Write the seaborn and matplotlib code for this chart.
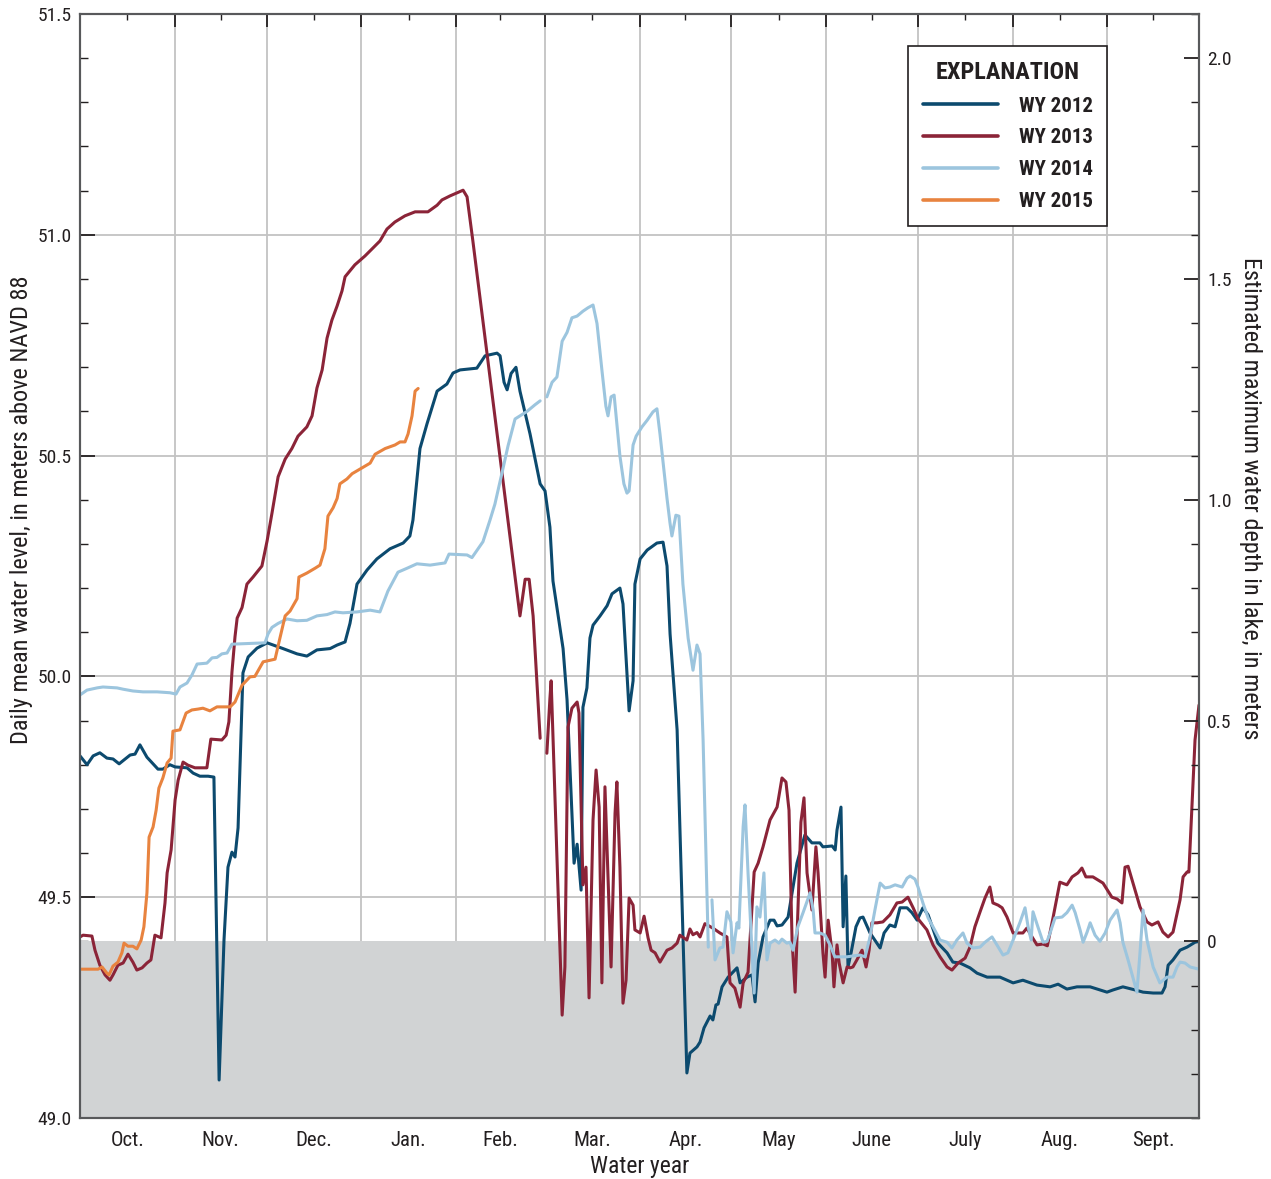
import numpy as np
import pandas as pd
import matplotlib
matplotlib.use('Agg')
import matplotlib.pyplot as plt
import seaborn as sns
from matplotlib import font_manager

months = ['Oct.', 'Nov.', 'Dec.', 'Jan.', 'Feb.', 'Mar.', 'Apr.', 'May', 'June', 'July', 'Aug.', 'Sept.']
month_days = [31, 30, 31, 31, 29, 31, 30, 31, 30, 31, 31, 30]
years = ['WY 2012', 'WY 2013', 'WY 2014', 'WY 2015']
colors = ['#0c4a6e', '#8b2438', '#9cc5de', '#e8833f']
lake_bottom = 49.4  # level where estimated depth = 0

# (day of water year, daily mean water level); None marks a data gap
wy2012 = [
    (0, 49.82), (2.3, 49.80), (4.3, 49.82), (6.5, 49.827), (8.8, 49.815), (10.8, 49.813),
    (12.8, 49.802), (16.4, 49.822), (18.0, 49.824), (19.6, 49.845), (21.9, 49.817), (25.5, 49.79),
    (27.1, 49.79), (29.4, 49.80), (31.1, 49.795), (35.0, 49.793), (37.0, 49.781), (39.2, 49.774),
    (41.9, 49.774), (43.8, 49.772), (45.5, 49.086), (47.1, 49.403), (48.4, 49.568), (49.7, 49.602),
    (50.7, 49.591), (51.7, 49.657), (53.3, 50.008), (55.0, 50.044), (57.9, 50.064), (61.2, 50.076),
    (66.4, 50.063), (71.0, 50.051), (74.2, 50.046), (77.5, 50.06), (81.8, 50.063), (84.1, 50.071),
    (86.7, 50.078), (88.3, 50.12), (90.6, 50.209), (93.9, 50.241), (97.1, 50.266), (101.4, 50.289),
    (105.7, 50.302), (107.9, 50.318), (108.9, 50.354), (111.2, 50.516), (113.5, 50.572),
    (116.8, 50.646), (120.0, 50.662), (122.0, 50.687), (124.3, 50.694), (129.8, 50.698),
    (132.5, 50.726), (136.4, 50.732), (137.4, 50.726), (138.7, 50.666), (139.7, 50.649),
    (141.0, 50.686), (142.6, 50.70), (143.9, 50.646), (147.2, 50.549), (150.5, 50.436),
    (152.1, 50.42), (153.7, 50.338), (154.7, 50.216), (158.0, 50.063), (159.3, 49.947),
    (161.6, 49.577), (162.6, 49.62), (163.9, 49.516), (164.5, 49.93), (165.8, 49.974),
    (166.8, 50.087), (167.8, 50.116), (170.1, 50.137), (172.4, 50.16), (174.0, 50.187),
    (176.6, 50.20), (177.6, 50.164), (179.6, 49.922), (180.9, 49.99), (181.5, 50.209),
    (183.2, 50.266), (185.5, 50.286), (188.7, 50.302), (190.7, 50.304), (192.0, 50.25),
    (193.0, 50.096), (195.3, 49.879), (196.9, 49.494), (198.5, 49.102), (199.5, 49.147),
    (201.8, 49.161), (202.8, 49.172), (204.1, 49.204), (206.1, 49.231), (207.0, 49.222),
    (208.0, 49.256), (208.7, 49.258), (210.0, 49.297), (212.0, 49.319), (214.9, 49.34),
    (215.9, 49.306), (218.2, 49.319), (219.8, 49.324), (220.8, 49.263), (221.8, 49.351),
    (223.4, 49.41), (225.7, 49.448), (227.0, 49.448), (228.0, 49.435), (229.6, 49.437),
    (231.6, 49.455), (234.5, 49.577), (237.1, 49.641), (239.4, 49.623), (242.0, 49.623),
    (243.0, 49.614), (246.0, 49.616), (247.0, 49.607), (247.6, 49.652), (248.9, 49.704),
    (249.6, 49.433), (250.5, 49.548), (251.2, 49.342), (252.2, 49.374), (253.8, 49.433),
    (255.1, 49.453), (256.1, 49.455), (258.4, 49.419), (261.7, 49.385), (263.0, 49.419),
    (264.9, 49.437), (266.6, 49.433), (268.2, 49.476), (270.5, 49.476), (272.1, 49.465),
    (273.8, 49.448), (275.7, 49.476), (277.4, 49.46), (280.6, 49.396), (283.6, 49.374),
    (285.5, 49.353), (287.8, 49.351), (291.1, 49.34), (293.4, 49.328), (296.7, 49.319),
    (300.9, 49.319), (305.2, 49.306), (308.4, 49.312), (313.0, 49.301), (317.3, 49.297),
    (319.9, 49.303), (322.8, 49.292), (326.1, 49.297), (330.4, 49.297), (335.9, 49.285),
    (337.9, 49.29), (341.1, 49.297), (345.1, 49.29), (347.7, 49.285), (351.0, 49.283),
    (353.9, 49.283), (354.9, 49.297), (355.9, 49.346), (357.5, 49.358), (359.8, 49.38),
    (362.1, 49.387), (364.7, 49.398), (366.0, 49.40),
]

wy2013 = [
    (0, 49.41), (1.0, 49.414), (3.9, 49.412), (4.9, 49.38), (6.5, 49.346), (8.2, 49.324),
    (9.8, 49.312), (10.8, 49.324), (12.4, 49.346), (14.1, 49.351), (15.7, 49.371), (17.3, 49.353),
    (18.6, 49.335), (20.3, 49.34), (21.9, 49.351), (23.2, 49.358), (24.5, 49.414), (26.5, 49.408),
    (27.8, 49.487), (28.5, 49.555), (29.8, 49.607), (31.1, 49.72), (32.1, 49.765), (33.7, 49.806),
    (35.3, 49.799), (37.6, 49.793), (41.5, 49.793), (42.8, 49.858), (46.4, 49.856), (47.8, 49.867),
    (48.7, 49.897), (49.7, 50.01), (50.7, 50.09), (51.4, 50.132), (53.0, 50.156), (54.6, 50.209),
    (56.6, 50.225), (59.5, 50.25), (61.2, 50.307), (62.8, 50.37), (64.8, 50.452), (67.1, 50.492),
    (69.3, 50.516), (71.3, 50.544), (74.2, 50.565), (75.9, 50.59), (77.5, 50.653), (79.2, 50.694),
    (80.8, 50.766), (82.4, 50.807), (84.1, 50.839), (85.7, 50.873), (86.7, 50.905), (89.9, 50.932),
    (93.2, 50.952), (95.8, 50.97), (98.1, 50.986), (100.4, 51.013), (103.0, 51.029), (106.3, 51.043),
    (109.6, 51.052), (113.8, 51.052), (116.8, 51.067), (118.4, 51.079), (121.0, 51.088),
    (125.3, 51.101), (126.6, 51.086), (128.5, 50.986), (143.9, 50.137), (145.6, 50.22),
    (146.9, 50.22), (148.2, 50.137), (150.5, 49.86), (151.6, None),
    (152.7, 49.826), (153.7, 49.95), (154.1, 49.99), (157.7, 49.233), (158.6, 49.342),
    (159.6, 49.885), (160.9, 49.928), (162.6, 49.942), (163.2, 49.917), (164.5, 49.528),
    (165.5, 49.568), (166.5, 49.272), (167.8, 49.675), (168.8, 49.788), (169.8, 49.704),
    (170.7, 49.306), (171.7, 49.75), (173.7, 49.342), (175.0, 49.69), (175.6, 49.761),
    (176.6, 49.568), (177.6, 49.26), (178.6, 49.312), (179.6, 49.498), (180.9, 49.482),
    (181.5, 49.426), (183.2, 49.419), (184.5, 49.457), (185.8, 49.408), (186.8, 49.38),
    (188.1, 49.374), (189.7, 49.353), (192.0, 49.38), (193.6, 49.385), (195.3, 49.396),
    (196.2, 49.414), (198.5, 49.403), (199.5, 49.428), (200.5, 49.415), (201.8, 49.42),
    (202.8, 49.41), (204.4, 49.44), (207.0, 49.43), (209.3, 49.419), (211.6, 49.41),
    (212.6, 49.306), (214.2, 49.294), (215.9, 49.251), (216.9, 49.306), (218.5, 49.33),
    (220.5, 49.557), (221.8, 49.577), (223.4, 49.614), (225.7, 49.675), (228.0, 49.704),
    (229.6, 49.77), (230.9, 49.761), (231.9, 49.697), (232.9, 49.403), (233.9, 49.285),
    (235.8, 49.67), (236.8, 49.725), (237.8, 49.555), (239.4, 49.471), (240.7, 49.614),
    (241.4, 49.555), (243.0, 49.374), (243.7, 49.319), (244.7, 49.448), (246.0, 49.374),
    (246.6, 49.297), (247.6, 49.392), (248.3, 49.351), (249.6, 49.306), (250.9, 49.342),
    (251.9, 49.34), (252.8, 49.342), (254.1, 49.358), (255.8, 49.38), (257.1, 49.342),
    (258.1, 49.38), (259.0, 49.442), (260.7, 49.442), (262.6, 49.444), (264.9, 49.46),
    (267.2, 49.487), (268.9, 49.489), (270.8, 49.50), (272.5, 49.476), (274.1, 49.451),
    (277.0, 49.426), (279.0, 49.392), (281.3, 49.365), (283.6, 49.342), (285.2, 49.335),
    (287.2, 49.351), (289.5, 49.362), (291.1, 49.387), (292.7, 49.433), (294.4, 49.467),
    (296.0, 49.498), (297.6, 49.523), (298.6, 49.487), (300.3, 49.482), (301.6, 49.476),
    (303.2, 49.455), (305.2, 49.419), (308.4, 49.419), (309.7, 49.43), (311.4, 49.41),
    (313.0, 49.392), (315.0, 49.394), (316.4, 49.39), (318.3, 49.455), (320.5, 49.534),
    (322.8, 49.528), (324.5, 49.546), (326.4, 49.555), (327.7, 49.566), (329.0, 49.546),
    (331.3, 49.546), (334.6, 49.532), (337.5, 49.50), (339.2, 49.496), (340.8, 49.487),
    (341.8, 49.568), (342.8, 49.57), (345.1, 49.516), (346.7, 49.478), (349.0, 49.444),
    (350.6, 49.437), (352.6, 49.444), (354.2, 49.421), (355.9, 49.41), (357.5, 49.421),
    (359.8, 49.494), (360.8, 49.546), (362.1, 49.557), (362.7, 49.557), (363.7, 49.704),
    (364.7, 49.856), (366.0, 49.935),
]

wy2014 = [
    (0, 49.958), (2.3, 49.969), (5.6, 49.974), (7.5, 49.976), (12.1, 49.974), (14.1, 49.971),
    (17.3, 49.967), (20.6, 49.965), (25.2, 49.965), (29.4, 49.963), (31.4, 49.96), (32.7, 49.976),
    (35.0, 49.985), (36.6, 50.003), (38.3, 50.028), (41.5, 50.03), (43.2, 50.042), (44.8, 50.043),
    (46.4, 50.051), (48.1, 50.053), (49.7, 50.073), (53.3, 50.074), (60.5, 50.076), (61.5, 50.096),
    (62.8, 50.111), (64.8, 50.12), (67.7, 50.13), (71.0, 50.126), (74.2, 50.127), (77.5, 50.137),
    (80.8, 50.14), (83.4, 50.146), (86.0, 50.144), (90.6, 50.146), (94.9, 50.15), (98.1, 50.146),
    (100.7, 50.193), (104.0, 50.236), (107.0, 50.245), (110.2, 50.255), (114.5, 50.252),
    (119.4, 50.257), (120.7, 50.277), (126.6, 50.275), (128.2, 50.269), (131.8, 50.305),
    (134.1, 50.354), (135.7, 50.39), (138.0, 50.46), (140.0, 50.522), (142.3, 50.583),
    (146.2, 50.60), (148.8, 50.615), (150.5, 50.624), (151.6, None),
    (152.7, 50.633), (154.4, 50.666), (156.0, 50.678), (157.7, 50.759), (159.3, 50.779),
    (160.9, 50.812), (162.6, 50.816), (164.5, 50.827), (166.2, 50.835), (167.8, 50.841),
    (169.1, 50.799), (170.7, 50.694), (172.0, 50.612), (172.7, 50.59), (173.7, 50.633),
    (174.7, 50.637), (176.6, 50.499), (177.9, 50.436), (178.9, 50.415), (179.6, 50.42),
    (180.9, 50.524), (181.9, 50.544), (183.8, 50.565), (185.5, 50.58), (187.4, 50.599),
    (188.7, 50.606), (189.7, 50.549), (192.0, 50.403), (193.0, 50.346), (193.6, 50.318),
    (194.9, 50.365), (195.9, 50.363), (197.2, 50.209), (198.9, 50.087), (200.5, 50.014),
    (201.8, 50.071), (202.8, 50.051), (203.8, 49.856), (205.5, 49.387), (206.1, None),
    (206.7, 49.494), (207.7, 49.358), (209.3, 49.385), (210.3, 49.387), (211.6, 49.467),
    (212.9, 49.444), (213.6, 49.374), (214.9, 49.442), (215.5, 49.43), (216.9, 49.66),
    (217.5, 49.709), (218.5, 49.555), (220.5, 49.283), (221.4, 49.478), (222.4, 49.455),
    (223.7, 49.555), (224.7, 49.358), (225.7, 49.396), (227.3, 49.403), (228.6, 49.396),
    (229.6, 49.405), (231.2, 49.396), (232.2, 49.398), (233.2, 49.38), (234.8, 49.433),
    (236.5, 49.465), (238.8, 49.51), (239.8, 49.471), (240.4, 49.419), (242.0, 49.419),
    (243.7, 49.414), (245.3, 49.392), (246.9, 49.365), (248.6, 49.365), (250.9, 49.365),
    (252.8, 49.367), (255.1, 49.369), (256.8, 49.365), (258.4, 49.41), (260.0, 49.471),
    (261.7, 49.532), (263.3, 49.521), (264.9, 49.523), (266.6, 49.528), (268.9, 49.523),
    (270.5, 49.543), (271.5, 49.548), (273.1, 49.541), (274.1, 49.523), (275.7, 49.487),
    (277.4, 49.453), (279.0, 49.433), (281.3, 49.403), (283.6, 49.398), (285.2, 49.385),
    (286.8, 49.403), (288.8, 49.419), (290.1, 49.396), (292.1, 49.385), (294.4, 49.387),
    (296.0, 49.398), (298.3, 49.41), (299.9, 49.392), (301.9, 49.369), (303.5, 49.374),
    (305.2, 49.403), (307.5, 49.444), (309.1, 49.476), (310.1, 49.433), (311.1, 49.403),
    (311.7, 49.467), (313.3, 49.433), (315.0, 49.398), (316.3, 49.40), (317.3, 49.419),
    (318.9, 49.453), (321.2, 49.455), (322.8, 49.465), (324.5, 49.482), (325.5, 49.465),
    (327.1, 49.426), (328.1, 49.398), (329.4, 49.421), (330.4, 49.442), (332.0, 49.414),
    (333.6, 49.40), (335.3, 49.419), (336.9, 49.448), (339.2, 49.471), (340.2, 49.442),
    (341.1, 49.398), (342.8, 49.358), (345.7, 49.285), (346.7, 49.374), (347.7, 49.471),
    (349.0, 49.403), (351.0, 49.342), (353.2, 49.306), (355.5, 49.319), (357.5, 49.319),
    (358.8, 49.342), (359.8, 49.353), (361.4, 49.351), (363.1, 49.342), (366.0, 49.337),
]

wy2015 = [
    (0, 49.337), (5.9, 49.337), (7.2, 49.342), (8.8, 49.328), (9.5, 49.324), (10.8, 49.344),
    (12.4, 49.353), (13.7, 49.374), (14.4, 49.396), (15.7, 49.389), (17.3, 49.389), (18.6, 49.383),
    (20.0, 49.403), (20.9, 49.433), (21.9, 49.51), (22.6, 49.636), (23.9, 49.659), (24.9, 49.697),
    (25.8, 49.747), (27.1, 49.77), (28.5, 49.804), (29.8, 49.815), (30.4, 49.876), (32.7, 49.879),
    (34.7, 49.917), (36.6, 49.924), (38.6, 49.926), (40.2, 49.928), (42.5, 49.922), (44.8, 49.931),
    (49.1, 49.931), (50.7, 49.942), (53.0, 49.98), (55.6, 49.999), (57.2, 50.0), (59.9, 50.033),
    (63.8, 50.039), (65.4, 50.087), (67.1, 50.137), (68.7, 50.148), (71.0, 50.176), (71.6, 50.225),
    (74.2, 50.234), (76.9, 50.245), (78.5, 50.252), (80.1, 50.289), (81.1, 50.363), (82.8, 50.382),
    (84.1, 50.403), (85.0, 50.436), (87.3, 50.447), (89.0, 50.459), (92.2, 50.472), (94.9, 50.483),
    (96.5, 50.503), (99.8, 50.516), (103.0, 50.524), (104.7, 50.531), (106.3, 50.531),
    (107.3, 50.549), (108.6, 50.59), (109.6, 50.646), (110.6, 50.652),
]

# long-form table; gaps split a year into separate segments
rows = []
for name, series in zip(years, [wy2012, wy2013, wy2014, wy2015]):
    seg = 0
    for day, level in series:
        if level is None:
            seg += 1
            continue
        rows.append((name, f'{name}-{seg}', day, level))
df = pd.DataFrame(rows, columns=['year', 'segment', 'day', 'level'])

sns.set_style('ticks')
available = {f.name for f in font_manager.fontManager.ttflist}
narrow = [f for f in ['Liberation Sans Narrow', 'Roboto Condensed', 'DejaVu Sans Condensed'] if f in available]
plt.rcParams['font.family'] = narrow + ['DejaVu Sans']
ink = '#231f20'
plt.rcParams['text.color'] = ink
plt.rcParams['axes.labelcolor'] = ink
plt.rcParams['xtick.color'] = ink
plt.rcParams['ytick.color'] = ink

fig = plt.figure(figsize=(12.71, 11.79), dpi=100)
ax = fig.add_axes([80 / 1271, 61 / 1179, 1119 / 1271, 1104 / 1179])

bounds = np.concatenate([[0], np.cumsum(month_days)])
mids = (bounds[:-1] + bounds[1:]) / 2

ax.axhspan(49.0, lake_bottom, color='#d1d3d4', lw=0, zorder=1)
for b in bounds[1:-1]:
    ax.axvline(b, color='#c3c3c3', lw=1.3, zorder=0.5)
for v in [49.5, 50.0, 50.5, 51.0]:
    ax.axhline(v, color='#c3c3c3', lw=1.3, zorder=0.5)

sns.lineplot(data=df, x='day', y='level', hue='year', units='segment', estimator=None,
             sort=False, palette=dict(zip(years, colors)), linewidth=2.2, ax=ax, zorder=3)

ax.set_xlim(0, 366)
ax.set_ylim(49.0, 51.5)

ax.set_xticks(bounds)
ax.set_xticklabels([])
ax.set_xticks(mids, minor=True)
ax.set_xticklabels(months, minor=True)
ax.tick_params(axis='x', which='major', direction='in', length=9, width=1.3, top=True)
ax.tick_params(axis='x', which='minor', direction='in', length=4, width=1.0, top=True,
               labelsize=15, pad=9)

ax.set_yticks(np.arange(49.0, 51.51, 0.5))
ax.set_yticklabels([f'{v:.1f}' for v in np.arange(49.0, 51.51, 0.5)])
ax.set_yticks(np.arange(49.0, 51.51, 0.1), minor=True)
ax.tick_params(axis='y', which='major', direction='in', length=11, width=1.3, labelsize=14, pad=6)
ax.tick_params(axis='y', which='minor', direction='in', length=6, width=1.0)

ax2 = ax.twinx()
ax2.set_ylim(49.0 - lake_bottom, 51.5 - lake_bottom)
depth_ticks = [0, 0.5, 1.0, 1.5, 2.0]
ax2.set_yticks(depth_ticks)
ax2.set_yticklabels(['0', '0.5', '1.0', '1.5', '2.0'])
ax2.set_yticks(np.arange(-0.4, 2.11, 0.1), minor=True)
ax2.tick_params(axis='y', which='major', direction='in', length=11, width=1.3, labelsize=14, pad=6)
ax2.tick_params(axis='y', which='minor', direction='in', length=6, width=1.0)

for a in (ax, ax2):
    for s in a.spines.values():
        s.set_color('#58595b')
        s.set_linewidth(1.5)

ax.set_xlabel('Water year', fontsize=17, labelpad=4)
ax.set_ylabel('Daily mean water level, in meters above NAVD 88', fontsize=17.5, va='center')
ax.yaxis.set_label_coords(-0.052, 0.551)
ax2.set_ylabel('Estimated maximum water depth in lake, in meters', fontsize=17.5, rotation=270,
               va='center')
ax2.yaxis.set_label_coords(1.046, 0.561)

handles, labels = ax.get_legend_handles_labels()
for h in handles:
    h.set_linewidth(2.6)
leg = ax.legend(handles, labels, title='EXPLANATION', loc='upper right',
                bbox_to_anchor=(0.918, 0.971), borderaxespad=0, frameon=True, fancybox=False,
                edgecolor=ink, framealpha=1, prop={'weight': 'bold', 'size': 15},
                title_fontproperties={'weight': 'bold', 'size': 17.5},
                handlelength=3.6, labelspacing=0.62, borderpad=0.7, handletextpad=1.0)
leg.get_frame().set_linewidth(1.2)
leg.set_zorder(10)

fig.savefig('out.png', dpi=100)
